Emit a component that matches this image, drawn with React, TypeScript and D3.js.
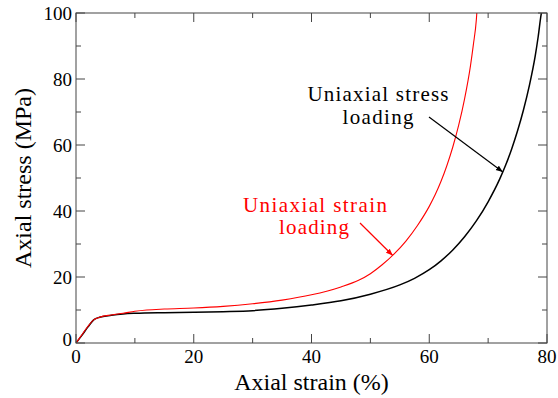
import React from "react";
import * as d3 from "d3";

// Stress–strain response under two loading conditions
const strainStress = [0, 1, 2, 3, 4, 6, 8, 10, 15, 20, 25, 30, 35, 40, 45, 50, 55, 57.5, 60, 62, 64, 66, 68, 70, 72, 73, 74, 75, 76, 77, 78, 78.5, 79, 79.1];
const stressStress = [0, 2.3, 4.8, 7, 7.8, 8.4, 8.8, 9.0, 9.2, 9.3, 9.5, 9.8, 10.5, 11.5, 12.8, 14.8, 17.6, 19.6, 22.2, 24.9, 28.2, 32.2, 37, 42.8, 49.8, 54, 58.8, 64.3, 70.6, 78, 87, 92.8, 99.5, 100.5];

const strainStrain = [0, 1, 2, 3, 4, 6, 8, 10, 12, 15, 20, 25, 30, 35, 40, 45, 48, 50, 52, 54, 56, 58, 60, 61, 62, 63, 64, 65, 66, 67, 67.5, 68, 68.1];
const stressStrain = [0, 2.5, 5, 7, 7.8, 8.5, 9.0, 9.6, 10.0, 10.3, 10.6, 11.1, 11.9, 13.0, 14.6, 17, 19, 21, 23.7, 26.9, 30.8, 35.6, 41.4, 44.9, 49, 53.8, 59.4, 66, 74, 84, 90.5, 98, 100.5];

const xMajor = [0, 20, 40, 60, 80];
const xMinor = [10, 30, 50, 70];
const yMajor = [0, 20, 40, 60, 80, 100];
const yMinor = [10, 30, 50, 70, 90];

const W = 558;
const H = 398;
const margin = { left: 76, right: 11, top: 13, bottom: 55 };
const serif = { fontFamily: "Liberation Serif" };

export default function App() {
  const x = d3.scaleLinear().domain([0, 80]).range([margin.left, W - margin.right]);
  const y = d3.scaleLinear().domain([0, 100]).range([H - margin.bottom, margin.top]);

  const line = d3
    .line<[number, number]>()
    .x((d) => x(d[0]))
    .y((d) => y(d[1]))
    .curve(d3.curveMonotoneX);

  const stressPts = strainStress.map((s, i) => [s, stressStress[i]] as [number, number]);
  const strainPts = strainStrain.map((s, i) => [s, stressStrain[i]] as [number, number]);

  const x0 = margin.left;
  const x1 = W - margin.right;
  const y0 = H - margin.bottom;
  const y1 = margin.top;
  const axisColor = "#444";
  const majorLen = 9;
  const minorLen = 5;

  return (
    <svg width={W} height={H} style={{ position: "absolute", left: 0, top: 0, background: "#fff" }}>
      <defs>
        <marker id="ahBlack" viewBox="0 0 10 10" refX="10" refY="5" markerWidth="7" markerHeight="7" orient="auto" markerUnits="userSpaceOnUse">
          <path d="M0,1 L10,5 L0,9 z" fill="#000" />
        </marker>
        <marker id="ahRed" viewBox="0 0 10 10" refX="10" refY="5" markerWidth="7" markerHeight="7" orient="auto" markerUnits="userSpaceOnUse">
          <path d="M0,1 L10,5 L0,9 z" fill="#f00" />
        </marker>
        <clipPath id="plotClip">
          <rect x={x0} y={y1} width={x1 - x0} height={y0 - y1} />
        </clipPath>
      </defs>

      {/* curves */}
      <g clipPath="url(#plotClip)" fill="none">
        <path d={line(stressPts) || ""} stroke="#000" strokeWidth={1.5} />
        <path d={line(strainPts) || ""} stroke="#f00" strokeWidth={1.1} />
      </g>

      {/* frame */}
      <rect x={x0} y={y1} width={x1 - x0} height={y0 - y1} fill="none" stroke={axisColor} strokeWidth={1} />

      {/* x ticks, bottom and top */}
      {xMajor.map((v) => (
        <g key={"xM" + v}>
          <line x1={x(v)} x2={x(v)} y1={y0} y2={y0 - majorLen} stroke={axisColor} />
          <line x1={x(v)} x2={x(v)} y1={y1} y2={y1 + majorLen} stroke={axisColor} />
          <text x={x(v)} y={y0 + 20} textAnchor="middle" fontSize={19} fill="#000" style={serif}>
            {v}
          </text>
        </g>
      ))}
      {xMinor.map((v) => (
        <g key={"xm" + v}>
          <line x1={x(v)} x2={x(v)} y1={y0} y2={y0 - minorLen} stroke={axisColor} />
          <line x1={x(v)} x2={x(v)} y1={y1} y2={y1 + minorLen} stroke={axisColor} />
        </g>
      ))}

      {/* y ticks, left and right */}
      {yMajor.map((v) => (
        <g key={"yM" + v}>
          <line x1={x0} x2={x0 + majorLen} y1={y(v)} y2={y(v)} stroke={axisColor} />
          <line x1={x1} x2={x1 - majorLen} y1={y(v)} y2={y(v)} stroke={axisColor} />
          <text x={x0 - 4} y={y(v) + (v === 0 ? 3 : 6.5)} textAnchor="end" fontSize={19} fill="#000" style={serif}>
            {v}
          </text>
        </g>
      ))}
      {yMinor.map((v) => (
        <g key={"ym" + v}>
          <line x1={x0} x2={x0 + minorLen} y1={y(v)} y2={y(v)} stroke={axisColor} />
          <line x1={x1} x2={x1 - minorLen} y1={y(v)} y2={y(v)} stroke={axisColor} />
        </g>
      ))}

      {/* axis titles */}
      <text x={(x0 + x1) / 2} y={390} textAnchor="middle" fontSize={24} fill="#000" style={serif}>
        Axial strain (%)
      </text>
      <text
        transform={`translate(31, ${(y0 + y1) / 2}) rotate(-90)`}
        textAnchor="middle"
        fontSize={24}
        fill="#000"
        style={serif}
      >
        Axial stress (MPa)
      </text>

      {/* annotations */}
      <text x={378} y={101} fill="#000" fontSize={21} textAnchor="middle" textLength={141} lengthAdjust="spacing" style={serif}>
        Uniaxial stress
      </text>
      <text x={378} y={124} fill="#000" fontSize={21} textAnchor="middle" textLength={71} lengthAdjust="spacing" style={serif}>
        loading
      </text>
      <text x={315} y={212} fill="#f00" fontSize={21} textAnchor="middle" textLength={144} lengthAdjust="spacing" style={serif}>
        Uniaxial strain
      </text>
      <text x={314} y={234} fill="#f00" fontSize={21} textAnchor="middle" textLength={70} lengthAdjust="spacing" style={serif}>
        loading
      </text>
      <line x1={429} y1={117} x2={x(72.5)} y2={y(51.8)} stroke="#000" strokeWidth={1.2} markerEnd="url(#ahBlack)" />
      <line x1={360} y1={223} x2={x(53.8)} y2={y(26.5)} stroke="#f00" strokeWidth={1.2} markerEnd="url(#ahRed)" />
    </svg>
  );
}
